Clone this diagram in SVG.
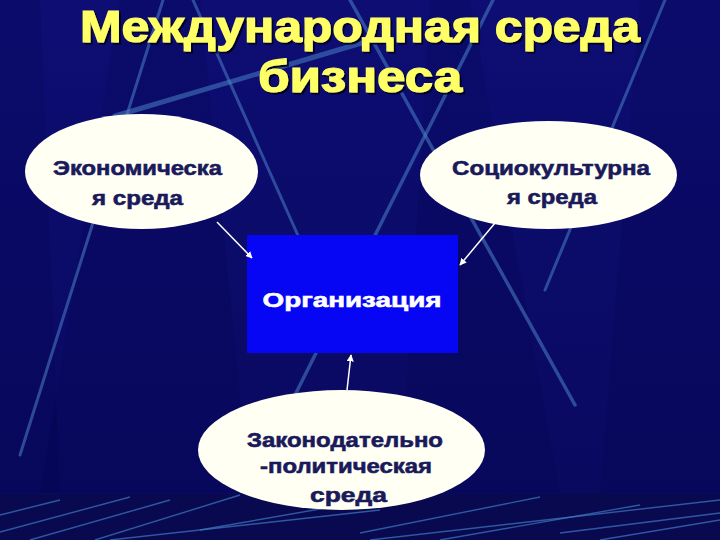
<svg xmlns="http://www.w3.org/2000/svg" width="720" height="540" viewBox="0 0 720 540">
<defs>
<linearGradient id="bg" x1="0" y1="0" x2="0" y2="1">
<stop offset="0" stop-color="#0d0d74"/>
<stop offset="1" stop-color="#09095e"/>
</linearGradient>
<linearGradient id="horizon" x1="0" y1="0" x2="1" y2="0">
<stop offset="0" stop-color="#d0e480"/>
<stop offset="0.5" stop-color="#b4c864"/>
<stop offset="0.9" stop-color="#c8d878"/>
<stop offset="1" stop-color="#505898"/>
</linearGradient>
<filter id="shadow" x="-5%" y="-10%" width="110%" height="130%">
<feDropShadow dx="2" dy="2" stdDeviation="0.6" flood-color="#000020" flood-opacity="0.9"/>
</filter>
<marker id="arrow" viewBox="0 0 10 10" refX="9" refY="5" markerWidth="7" markerHeight="7" markerUnits="userSpaceOnUse" orient="auto">
<path d="M0,0 L10,5 L0,10 z" fill="#ffffff"/>
</marker>
<style>
.streak{stroke:#4a82c4;stroke-opacity:0.55;fill:none;stroke-linecap:round}
.floor{stroke:#3f7ac4;stroke-opacity:0.7;stroke-width:1.4;fill:none}
.beam{fill:#000040;fill-opacity:0.14}
.title{font-family:"Liberation Sans",Arial,sans-serif;font-weight:bold;font-size:44px;fill:#ffff66;stroke:#ffff66;stroke-width:1.2;text-anchor:middle}
.oval{fill:#fffff4}
.otext{font-family:"Liberation Sans",Arial,sans-serif;font-weight:bold;font-size:21px;fill:#1a1a5a;stroke:#1a1a5a;stroke-width:0.6;text-anchor:middle}
.btext{font-family:"Liberation Sans",Arial,sans-serif;font-weight:bold;font-size:21px;fill:#ffffff;stroke:#ffffff;stroke-width:0.6;text-anchor:middle}
.conn{stroke:#ffffff;stroke-width:1.5;fill:none}
</style>
</defs>

<g id="background">
<rect x="0" y="0" width="720" height="540" fill="url(#bg)"/>
<polygon class="beam" points="0,0 40,0 60,493 0,493"/>
<polygon class="beam" points="120,0 200,0 250,493 40,493"/>
<polygon class="beam" points="430,0 470,0 560,493 400,493"/>
<polygon class="beam" points="640,0 720,0 720,493 600,493"/>
<line class="streak" x1="163" y1="0" x2="20" y2="455" stroke-width="3"/>
<line class="streak" x1="193" y1="0" x2="300" y2="240" stroke-width="3"/>
<line class="streak" x1="350" y1="0" x2="575" y2="405" stroke-width="3.5"/>
<line class="streak" x1="493" y1="0" x2="295" y2="395" stroke-width="3.5"/>
<line class="streak" x1="665" y1="0" x2="545" y2="290" stroke-width="3"/>
<line class="streak" x1="115" y1="116" x2="365" y2="42" stroke-width="5"/>
<rect x="0" y="494" width="720" height="46" fill="#09094f"/>
<line class="floor" x1="0" y1="532" x2="130" y2="497"/>
<line class="floor" x1="30" y1="540" x2="170" y2="500"/>
<line class="floor" x1="95" y1="540" x2="240" y2="495"/>
<line class="floor" x1="200" y1="530" x2="360" y2="502"/>
<line class="floor" x1="110" y1="540" x2="380" y2="510"/>
<line class="floor" x1="360" y1="533" x2="540" y2="497"/>
<line class="floor" x1="370" y1="540" x2="720" y2="500"/>
<line class="floor" x1="560" y1="533" x2="720" y2="513"/>
<line class="floor" x1="440" y1="540" x2="640" y2="505"/>
<line class="floor" x1="600" y1="540" x2="720" y2="520"/>
<line class="floor" x1="0" y1="515" x2="60" y2="500"/>
<line x1="0" y1="493" x2="720" y2="493" stroke="url(#horizon)" stroke-width="3"/>
</g>

<g id="title" filter="url(#shadow)">
<text class="title" x="360" y="42" textLength="560" lengthAdjust="spacingAndGlyphs">Международная среда</text>
<text class="title" x="360" y="92" textLength="204" lengthAdjust="spacingAndGlyphs">бизнеса</text>
</g>

<g id="economic">
<ellipse class="oval" cx="141.5" cy="171.5" rx="116.5" ry="57.5"/>
<text class="otext" x="137.5" y="175" textLength="169" lengthAdjust="spacingAndGlyphs">Экономическа</text>
<text class="otext" x="137.5" y="205" textLength="91" lengthAdjust="spacingAndGlyphs">я среда</text>
</g>

<g id="sociocultural">
<ellipse class="oval" cx="548.5" cy="175" rx="128.5" ry="54"/>
<text class="otext" x="551" y="175" textLength="198" lengthAdjust="spacingAndGlyphs">Социокультурна</text>
<text class="otext" x="552" y="204" textLength="90" lengthAdjust="spacingAndGlyphs">я среда</text>
</g>

<g id="organization">
<rect x="247" y="235" width="211" height="118" fill="#0606f5"/>
<text class="btext" x="352" y="307" textLength="179" lengthAdjust="spacingAndGlyphs">Организация</text>
</g>

<g id="legal">
<ellipse class="oval" cx="341.5" cy="450" rx="143.5" ry="60"/>
<text class="otext" x="345" y="447" textLength="196" lengthAdjust="spacingAndGlyphs">Законодательно</text>
<text class="otext" x="346" y="473" textLength="172" lengthAdjust="spacingAndGlyphs">-политическая</text>
<text class="otext" x="348.5" y="502" textLength="77" lengthAdjust="spacingAndGlyphs">среда</text>
</g>

<g id="connectors">
<line class="conn" x1="217" y1="222" x2="252" y2="258" marker-end="url(#arrow)"/>
<line class="conn" x1="495" y1="223" x2="460" y2="265" marker-end="url(#arrow)"/>
<line class="conn" x1="347" y1="390" x2="351" y2="355" marker-end="url(#arrow)"/>
</g>
</svg>
